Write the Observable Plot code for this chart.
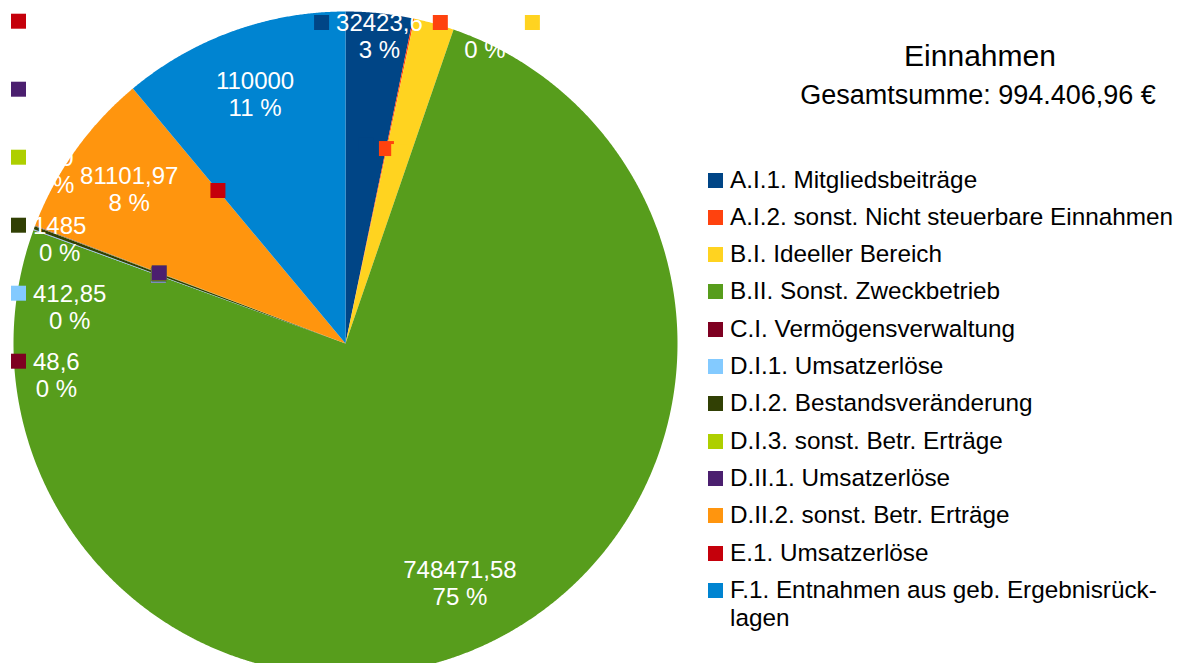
<!DOCTYPE html>
<html lang="de">
<head>
<meta charset="utf-8">
<script src="https://cdn.jsdelivr.net/npm/d3@7"></script>
<script src="https://cdn.jsdelivr.net/npm/@observablehq/plot@0.6"></script>
<style>
  html, body { margin: 0; padding: 0; background: #fff; }
  body { width: 1185px; height: 663px; overflow: hidden; position: relative;
         font-family: "Liberation Sans", Arial, sans-serif; color: #000; }
  #chart { position: absolute; left: 0; top: 0; }
  #chart svg { display: block; background: transparent; }
  .ttl { position: absolute; width: 400px; text-align: center; white-space: nowrap; }
  #title { left: 780px; top: 40.6px; font-size: 30px; line-height: 30px; }
  #subtitle { left: 778px; top: 82px; font-size: 27px; line-height: 27px; }
  #legend { position: absolute; left: 708px; top: 165.6px; }
  .item { display: flex; align-items: flex-start; margin-bottom: 9.3px; }
  .sw { width: 15px; height: 15px; margin-top: 7px; margin-right: 7px; flex: none; }
  .lt { font-size: 24.3px; line-height: 28px; width: 455px; }
</style>
</head>
<body>
<div id="chart"></div>
<div id="title" class="ttl"></div>
<div id="subtitle" class="ttl"></div>
<div id="legend"></div>
<script>
// ---- data ----
const categories = [
  "A.I.1. Mitgliedsbeiträge",
  "A.I.2. sonst. Nicht steuerbare Einnahmen",
  "B.I. Ideeller Bereich",
  "B.II. Sonst. Zweckbetrieb",
  "C.I. Vermögensverwaltung",
  "D.I.1. Umsatzerlöse",
  "D.I.2. Bestandsveränderung",
  "D.I.3. sonst. Betr. Erträge",
  "D.II.1. Umsatzerlöse",
  "D.II.2. sonst. Betr. Erträge",
  "E.1. Umsatzerlöse",
  "F.1. Entnahmen aus geb. Ergebnisrücklagen"
];
const values = [32423.6, 652.8, 19400, 748471.58, 48.6, 412.85, 1485, 200, 210.56, 81101.97, 0, 110000];
const colors = ["#004586", "#ff420e", "#ffd320", "#579d1c", "#7e0021", "#83caff",
                "#314004", "#aecf00", "#4b1f6f", "#ff950e", "#c5000b", "#0084d1"];
const chartTitle = "Einnahmen";
const chartSubtitle = "Gesamtsumme: 994.406,96 €";

// ---- layout ----
const W = 690, H = 663, CX = 345, CY = 343, R = 332;
const FONT = 24, LH = 1.12, LINE = FONT * LH, SQ = 15, GAP = 7;

const rows = categories.map((name, i) => ({name, value: values[i]}));
const total = d3.sum(values);
const fmt = v => String(v).replace(".", ",");
const pct = v => Math.round(v / total * 100);
const labelText = d => `${fmt(d.value)}\n${pct(d.value)} %`;

const arcs = d3.pie().sort(null).value(d => d.value)(rows);

// slice polygons in unit-circle data coordinates (angle 0 = north, clockwise)
const slicePts = [];
arcs.forEach(a => {
  const name = a.data.name;
  const n = Math.max(2, Math.ceil((a.endAngle - a.startAngle) / 0.004));
  slicePts.push({name, x: 0, y: 0});
  for (let k = 0; k <= n; k++) {
    const t = a.startAngle + (a.endAngle - a.startAngle) * k / n;
    slicePts.push({name, x: Math.sin(t), y: Math.cos(t)});
  }
  slicePts.push({name, x: 0, y: 0});
});

const ctx = document.createElement("canvas").getContext("2d");
ctx.font = `${FONT}px "Liberation Sans"`;
const textW = s => d3.max(s.split("\n"), l => ctx.measureText(l).width);
const toX = px => (px - CX) / R;
const toY = py => (CY - py) / R;

const inner = [], outer = [], stray = [];
arcs.forEach(a => {
  const d = a.data, m = (a.startAngle + a.endAngle) / 2, txt = labelText(d);
  if (d.value / total >= 0.05) {
    inner.push({x: 0.8 * Math.sin(m), y: 0.8 * Math.cos(m), text: txt});
  } else {
    outer.push({name: d.name, m, txt, w: textW(txt)});
    stray.push({name: d.name, x: 0.6 * Math.sin(m), y: 0.6 * Math.cos(m)});
  }
});

// outside labels on the right half: one row along the top edge
let prevRight = -Infinity;
outer.filter(o => o.m < Math.PI).sort((p, q) => p.m - q.m).forEach(o => {
  let tx = CX + R * Math.sin(o.m);
  let left = tx - o.w / 2 - SQ - GAP;
  if (left < prevRight + 10) { left = prevRight + 10; tx = left + SQ + GAP + o.w / 2; }
  prevRight = tx + o.w / 2;
  o.tx = tx; o.sx = left + SQ / 2; o.line1 = CY - R + 11;
});
// outside labels on the left half: a column at the left edge, blocks centred on the mean anchor
const leftCol = outer.filter(o => o.m >= Math.PI).sort((p, q) => q.m - p.m);
const meanY = d3.mean(leftCol, o => CY - R * Math.cos(o.m));
leftCol.forEach((o, i) => {
  o.line1 = meanY + (i - (leftCol.length - 1) / 2) * 68 - LINE / 2;
  o.sx = CX - R + 5;
  o.tx = o.sx + SQ / 2 + GAP + o.w / 2;
});
const outerKeys = outer.map(o => ({name: o.name, x: toX(o.sx), y: toY(o.line1)}));
const outerTexts = outer.map(o => ({text: o.txt, x: toX(o.tx), y: toY(o.line1 + LINE / 2)}));

const sqR = SQ / Math.sqrt(Math.PI);

const chart = Plot.plot({
  width: W, height: H,
  x: {domain: [-1, 1], range: [CX - R, CX + R], axis: null},
  y: {domain: [-1, 1], range: [CY + R, CY - R], axis: null},
  color: {domain: categories, range: colors},
  style: {background: "transparent", fontFamily: "Liberation Sans, Arial, sans-serif"},
  marks: [
    Plot.line(slicePts, {x: "x", y: "y", z: "name", fill: "name", stroke: "none", curve: "linear"}),
    Plot.dot(stray, {x: "x", y: "y", fill: "name", symbol: "square", r: sqR, stroke: "none"}),
    Plot.text(inner, {x: "x", y: "y", text: "text", fill: "white", fontSize: FONT, lineHeight: LH,
                      textAnchor: "middle", fontFamily: "Liberation Sans"}),
    Plot.dot(outerKeys, {x: "x", y: "y", fill: "name", symbol: "square", r: sqR, stroke: "none"}),
    Plot.text(outerTexts, {x: "x", y: "y", text: "text", fill: "white", fontSize: FONT, lineHeight: LH,
                           textAnchor: "middle", fontFamily: "Liberation Sans"})
  ]
});
document.getElementById("chart").appendChild(chart);

document.getElementById("title").textContent = chartTitle;
document.getElementById("subtitle").textContent = chartSubtitle;
const legend = document.getElementById("legend");
categories.forEach((name, i) => {
  const item = document.createElement("div");
  item.className = "item";
  const sw = document.createElement("div");
  sw.className = "sw";
  sw.style.background = colors[i];
  const lt = document.createElement("div");
  lt.className = "lt";
  lt.textContent = name.replace("Ergebnisrücklagen", "Ergebnisrück\u00ADlagen");
  item.appendChild(sw); item.appendChild(lt);
  legend.appendChild(item);
});
</script>
</body>
</html>
